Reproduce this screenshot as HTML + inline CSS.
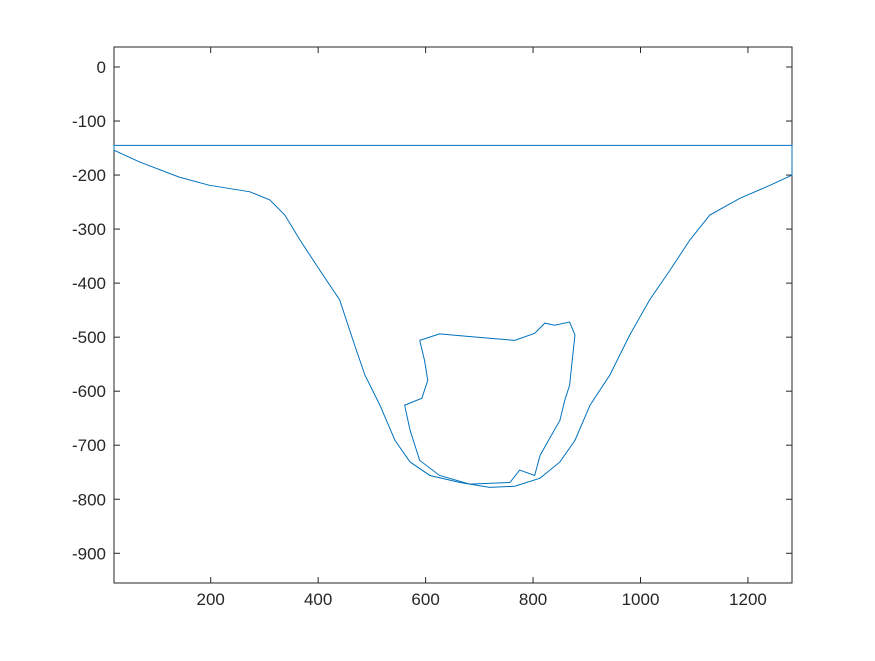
<!DOCTYPE html>
<html><head><meta charset="utf-8"><style>
body{margin:0;background:#fff;}
text{font-family:"Liberation Sans",sans-serif;font-size:17px;fill:#262626;}
</style></head><body>
<svg id="chart" width="875" height="656" xmlns="http://www.w3.org/2000/svg">
<rect width="875" height="656" fill="#fff"/>
<g id="plot"></g>
</svg>
<script>
const outerX=[20,68,142,198,273,310,338,366,403,440,468,487,515,543,571,608,664,719,766,813,850,878,906,943,980,1017,1055,1092,1129,1185,1241,1282,1282,20,20];
const outerY=[-154,-176,-204,-219,-231,-246,-274,-320,-376,-431,-515,-570,-626,-691,-731,-756,-769,-778,-776,-761,-731,-691,-626,-570,-496,-431,-376,-320,-274,-243,-219,-200,-145,-145,-154];
const innerX=[589,598,604,593,561,571,589,626,682,757,775,803,813,831,850,859,868,878,868,840,822,803,766,719,673,626,589];
const innerY=[-506,-543,-580,-613,-626,-672,-728,-756,-772,-769,-746,-756,-719,-687,-654,-617,-589,-496,-472,-478,-474,-493,-506,-502,-498,-494,-506];
const xTicks=[200,400,600,800,1000,1200];
const yTicks=[0,-100,-200,-300,-400,-500,-600,-700,-800,-900];
const xMin=20,xMax=1282,yMin=-955,yMax=37;
const L=114,R=792,T=47,B=583;
const sx=v=>L+(v-xMin)/(xMax-xMin)*(R-L);
const sy=v=>B-(v-yMin)/(yMax-yMin)*(B-T);
const NS="http://www.w3.org/2000/svg";
const g=document.getElementById('plot');
function mk(t,a){const e=document.createElementNS(NS,t);for(const k in a)e.setAttribute(k,a[k]);g.appendChild(e);return e;}
const box=mk('rect',{x:L,y:T,width:R-L,height:B-T,fill:'none',stroke:'#262626','stroke-width':1});


xTicks.forEach(v=>{
 const x=sx(v);
 const t1=mk('line',{x1:x,x2:x,y1:B,y2:B-6,stroke:'#262626'});
 
 
 const t2=mk('line',{x1:x,x2:x,y1:T,y2:T+6,stroke:'#262626'});
 
 
 const tx=mk('text',{x:x,y:B+22,'text-anchor':'middle'});tx.textContent=v;
 
 
});
yTicks.forEach(v=>{
 const y=sy(v);
 const t1=mk('line',{x1:L,x2:L+6,y1:y,y2:y,stroke:'#262626'});
 
 
 const t2=mk('line',{x1:R,x2:R-6,y1:y,y2:y,stroke:'#262626'});
 
 
 const tx=mk('text',{x:L-8,y:y+6,'text-anchor':'end'});tx.textContent=v;
 
 
});
function line(xs,ys,name){
 const p=mk('polyline',{points:xs.map((v,i)=>sx(v)+','+sy(ys[i])).join(' '),fill:'none',stroke:'#0072BD','stroke-width':1});
 
 
}
line(outerX,outerY,'outer-contour');
line(innerX,innerY,'inner-contour');
</script>
</body></html>
